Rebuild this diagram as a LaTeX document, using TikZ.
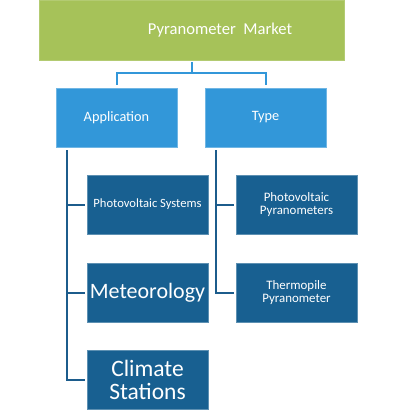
\documentclass[tikz,border=0pt]{standalone}
\usepackage{fontspec}
\setmainfont{Carlito}
\definecolor{cgreen}{RGB}{166,194,89}
\definecolor{clight}{RGB}{50,151,217}
\definecolor{cdark}{RGB}{24,96,145}
\definecolor{cline}{RGB}{28,92,140}
\begin{document}
\begin{tikzpicture}[x=1pt,y=-1pt,
  topbox/.style={fill=cgreen,draw=cgreen!85!white,minimum width=305pt,minimum height=60pt,inner sep=0pt},
  midbox/.style={fill=clight,draw=clight!70!white,line width=0.8pt,minimum width=121pt,minimum height=59pt,inner sep=0pt,text=white,font=\fontsize{14.3}{16}\selectfont},
  leafbox/.style={fill=cdark,draw=cdark!70!white,line width=0.8pt,minimum width=121pt,minimum height=59pt,inner sep=0pt,text=white,align=center},
  conn1/.style={draw=clight,line width=2pt},
  conn2/.style={draw=cline,line width=2pt}]
\useasboundingbox (0,0) rectangle (412,418);
\node[topbox] (top) at (191.5,30) {};
\node[text=white,font=\fontsize{16.6}{18}\selectfont] (toptxt) at (220,30) {Pyranometer\ \ Market};
\node[midbox] (app) at (116.5,117.5) {Application};
\node[midbox] (typ) at (265.5,117.5) {Type};
\node[leafbox,font=\fontsize{12.6}{14}\selectfont] (pv) at (147.5,204.5) {Photovoltaic Systems};
\node[leafbox,font=\fontsize{22}{24}\selectfont] (met) at (147.5,292.5) {Meteorology};
\node[leafbox,font=\fontsize{23.5}{23}\selectfont] (cli) at (147.5,379.5) {Climate\\Stations};
\node[leafbox,font=\fontsize{12.9}{12.5}\selectfont] (pvp) at (296.5,204.5) {Photovoltaic\\Pyranometers};
\node[leafbox,font=\fontsize{12.9}{12.5}\selectfont] (thp) at (296.5,292.5) {Thermopile\\Pyranometer};
\coordinate (j) at (191.5,73);
\coordinate (a0) at (67,150);
\coordinate (t0) at (216,150);
\draw[conn1] ([yshift=-2pt]top.south) -- (j);
\draw[conn1] ([yshift=3pt]app.north) |- (j) -| ([yshift=3pt]typ.north);
\draw[conn2] (a0) |- ([xshift=-2pt]cli.west);
\draw[conn2] (a0 |- pv.west) -- ([xshift=-2pt]pv.west);
\draw[conn2] (a0 |- met.west) -- ([xshift=-2pt]met.west);
\draw[conn2] (t0) |- ([xshift=-2pt]thp.west);
\draw[conn2] (t0 |- pvp.west) -- ([xshift=-2pt]pvp.west);
\end{tikzpicture}
\end{document}
